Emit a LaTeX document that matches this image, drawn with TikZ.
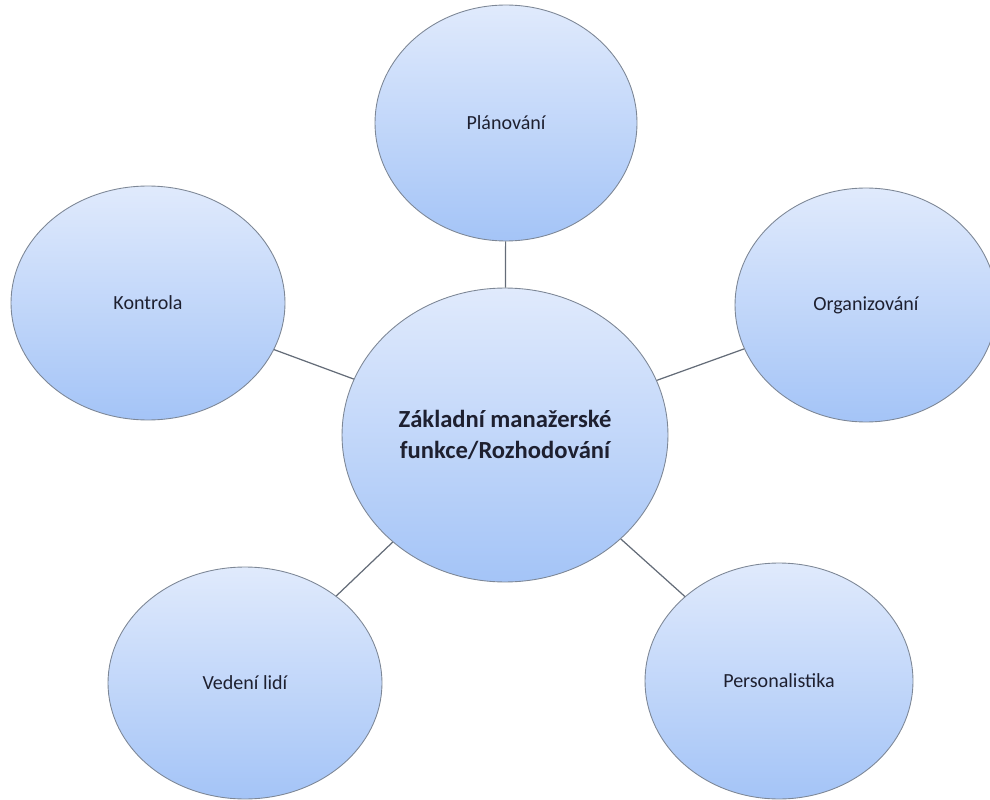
\documentclass[tikz,border=0pt]{standalone}
\usepackage{fontspec}
\setmainfont{Carlito}
\usetikzlibrary{shapes.geometric}
\definecolor{bubbletop}{RGB}{224,234,252}
\definecolor{bubblebot}{RGB}{164,196,247}
\definecolor{bubbleline}{RGB}{125,135,150}
\definecolor{bubbletext}{RGB}{30,32,48}

\begin{document}
\begin{tikzpicture}[x=0.02cm,y=-0.02cm,
    bubble/.style={ellipse,draw=bubbleline,line width=0.5pt,inner sep=0pt,
      top color=bubbletop,bottom color=bubblebot,text=bubbletext,
      font=\fontsize{11.4}{14}\selectfont},
    link/.style={draw=bubbleline!80!black,line width=0.7pt}]
      \useasboundingbox (0,0) rectangle (990,800);
      \node[bubble,minimum width=6.52cm,minimum height=5.88cm,align=center,
        font=\bfseries\fontsize{14}{18}\selectfont] (hub) at (505,435)
        {Základní manažerské\\funkce/Rozhodování};
      \node[bubble,minimum width=5.24cm,minimum height=4.72cm] (plan) at (506,123) {Plánování};
      \node[bubble,minimum width=5.48cm,minimum height=4.68cm] (kontrola) at (148,303) {Kontrola};
      \node[bubble,minimum width=5.24cm,minimum height=4.68cm] (org) at (866,305) {Organizování};
      \node[bubble,minimum width=5.48cm,minimum height=4.64cm] (vedeni) at (245,683) {Vedení lidí};
      \node[bubble,minimum width=5.36cm,minimum height=4.72cm] (pers) at (779,681) {Personalistika};
      \draw[link] (hub) -- (plan);
      \draw[link] (hub) -- (kontrola);
      \draw[link] (hub) -- (org);
      \draw[link] (hub) -- (vedeni);
      \draw[link] (hub) -- (pers);
    \end{tikzpicture}
\end{document}
